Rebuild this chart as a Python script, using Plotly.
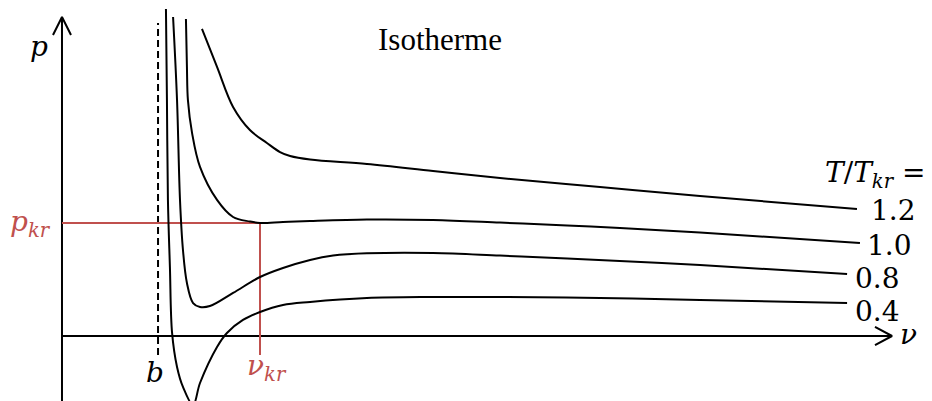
import plotly.graph_objects as go

# Reduced units: v / v_kr and p / p_kr (critical point at (1, 1))
V_KR = 1.0
P_KR = 1.0
B_VOL = 0.485          # co-volume b

# Isotherms, T / T_kr
v_12 = [0.707, 0.783, 0.864, 0.949, 1.035, 1.101, 1.152, 1.253, 1.540, 1.874, 2.212, 2.717, 3.222, 4.015]
p_12 = [2.717, 2.381, 2.027, 1.823, 1.708, 1.628, 1.593, 1.562, 1.522, 1.460, 1.398, 1.319, 1.239, 1.124]

v_10 = [0.626, 0.631, 0.636, 0.657, 0.697, 0.783, 0.864, 0.949, 1.000, 1.116, 1.253, 1.540, 1.874,
        2.212, 2.551, 2.818, 3.222, 4.030]
p_10 = [2.805, 2.381, 2.088, 1.796, 1.496, 1.204, 1.053, 1.013, 1.000, 1.009, 1.018, 1.031, 1.027,
        1.004, 0.978, 0.956, 0.916, 0.823]

v_08 = [0.561, 0.581, 0.596, 0.611, 0.631, 0.662, 0.697, 0.747, 0.864, 1.000, 1.116, 1.253, 1.369,
        1.540, 1.874, 2.212, 2.551, 3.222, 3.965]
p_08 = [2.823, 2.088, 1.204, 0.761, 0.469, 0.292, 0.257, 0.265, 0.381, 0.522, 0.602, 0.673, 0.712,
        0.732, 0.735, 0.712, 0.686, 0.628, 0.549]

v_04 = [0.525, 0.530, 0.535, 0.545, 0.556, 0.581, 0.611, 0.662, 0.697, 0.783, 0.833, 0.914, 1.000,
        1.116, 1.253, 1.540, 1.874, 2.212, 2.717, 3.222, 3.965]
p_04 = [2.894, 2.088, 1.204, 0.611, 0.027, -0.274, -0.451, -0.611, -0.416, -0.097, 0.027, 0.142, 0.212,
        0.274, 0.301, 0.336, 0.345, 0.345, 0.336, 0.319, 0.292]

isotherms = [(v_12, p_12), (v_10, p_10), (v_08, p_08), (v_04, p_04)]
t_labels = ["1.2", "1.0", "0.8", "0.4"]
t_label_pos = [(4.197, 1.110), (4.177, 0.805), (4.121, 0.513), (4.121, 0.221)]

RED = "#C0504D"
BLACK = "#000000"
MATH_FONT = "DejaVu Serif"

fig = go.Figure()


def seg(xs, ys, color=BLACK, width=2, dash=None, shape="linear"):
    fig.add_trace(go.Scatter(
        x=xs, y=ys, mode="lines", hoverinfo="skip", showlegend=False,
        line=dict(color=color, width=width, dash=dash, shape=shape),
    ))


# coordinate axes with open arrow heads
seg([0, 0], [-0.7, 2.823])
seg([-0.0455, 0, 0.0455], [2.664, 2.823, 2.664])
seg([0, 4.192], [0, 0])
seg([4.106, 4.192, 4.106], [0.080, 0, -0.080])

# co-volume b
seg([B_VOL, B_VOL], [-0.168, 2.770], dash="7px,4px")

# critical point guides
seg([0, V_KR, V_KR], [P_KR, P_KR, -0.168], color=RED)

# isotherms
for vs, ps in isotherms:
    seg(vs, ps, shape="spline")

ann = []


def label(x, y, text, size=28, color=BLACK, family=MATH_FONT, xanchor="center"):
    ann.append(dict(x=x, y=y, text=text, showarrow=False, xanchor=xanchor, yanchor="middle",
                    font=dict(family=family, size=size, color=color)))


label(1.909, 2.62, "Isotherme", size=31, family="Liberation Serif")
label(-0.116, 2.56, "<i>p</i>")
label(-0.157, 1.0, "<i>p</i><sub><i>kr</i></sub>", color=RED)
label(0.470, -0.319, "<i>b</i>")
label(1.035, -0.28, "<i>ν</i><sub><i>kr</i></sub>", color=RED)
label(4.273, 0.009, "<i>ν</i>")
label(3.843, 1.425, "<i>T</i>/<i>T</i><sub><i>kr</i></sub> =", xanchor="left")
for (x, y), t in zip(t_label_pos, t_labels):
    label(x, y, t)

fig.update_layout(
    width=932, height=401,
    margin=dict(l=0, r=0, t=0, b=0),
    paper_bgcolor="white", plot_bgcolor="white",
    xaxis=dict(range=[-0.3131, 4.3939], visible=False, fixedrange=True),
    yaxis=dict(range=[-0.5752, 2.9735], visible=False, fixedrange=True),
    annotations=ann,
    showlegend=False,
)

fig.write_html("out.html")
